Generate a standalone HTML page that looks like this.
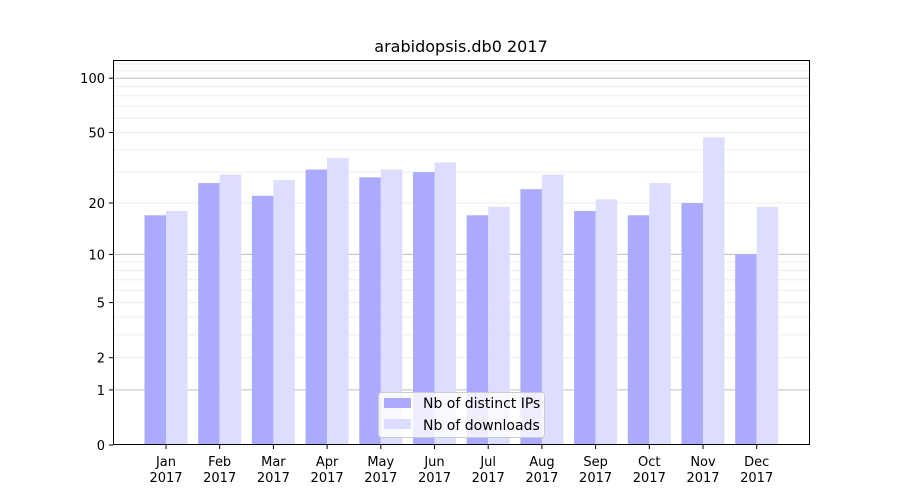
<!DOCTYPE html>
<html><head><meta charset="utf-8"><style>
body{margin:0;background:#fff;font-family:"DejaVu Sans","Liberation Sans",sans-serif;}
svg text{font-family:"DejaVu Sans","Liberation Sans",sans-serif;}
</style></head><body>
<svg id="chart" width="900" height="500">
<rect width="900" height="500" fill="#fff"/>
<text x="461" y="52" font-size="16" text-anchor="middle">arabidopsis.db0 2017</text>
<g id="grid"></g><g id="bars"></g><g id="axes"></g>
<g>
<rect x="378.5" y="392.5" width="166" height="45" rx="3" fill="#fff" fill-opacity="0.8" stroke="#ccc"/>
<rect x="384" y="398" width="27" height="10" fill="#aaaaff"/>
<text x="423" y="408" font-size="14">Nb of distinct IPs</text>
<rect x="384" y="419" width="27" height="10" fill="#ddddff"/>
<text x="423" y="430" font-size="14">Nb of downloads</text>
</g>
</svg>
<script>
const months=["Jan","Feb","Mar","Apr","May","Jun","Jul","Aug","Sep","Oct","Nov","Dec"];
const ips=[17,26,22,31,28,30,17,24,18,17,20,10];
const downloads=[18,29,27,36,31,34,19,29,21,26,47,19];
const yTicks=[0,1,2,5,10,20,50,100];
const NS="http://www.w3.org/2000/svg";
const L=113,R=810,T=60,B=445;
function y(v){return B-Math.log10(1+v)*183;}
function xc(i){return 166+i*53.7;}
function mk(tag,attrs,parent){const e=document.createElementNS(NS,tag);for(const k in attrs)e.setAttribute(k,attrs[k]);parent.appendChild(e);return e;}
const grid=document.getElementById('grid'),bars=document.getElementById('bars'),axes=document.getElementById('axes');
const minors=[2,3,4,5,6,7,8,9,20,30,40,50,60,70,80,90,110,120];
minors.forEach(v=>{const l=mk('line',{x1:L,x2:R,y1:y(v),y2:y(v),stroke:'#000','stroke-opacity':0.07},grid);

});
[1,10,100].forEach(v=>{const l=mk('line',{x1:L,x2:R,y1:y(v),y2:y(v),stroke:'#000','stroke-opacity':0.25},grid);

});
months.forEach((m,i)=>{
const w=21.5;
const b1=mk('rect',{x:xc(i)-w,y:y(ips[i]),width:w,height:B-y(ips[i]),fill:'#aaaaff'},bars);


const b2=mk('rect',{x:xc(i),y:y(downloads[i]),width:w,height:B-y(downloads[i]),fill:'#ddddff'},bars);


mk('line',{x1:xc(i),x2:xc(i),y1:B,y2:B+4,stroke:'#000'},axes);
const t=mk('text',{x:xc(i),y:B+21,'font-size':13,'text-anchor':'middle'},axes);t.textContent=m;


const t2=mk('text',{x:xc(i),y:B+37,'font-size':13,'text-anchor':'middle'},axes);t2.textContent='2017';


});
yTicks.forEach(v=>{
mk('line',{x1:L-4,x2:L,y1:y(v),y2:y(v),stroke:'#000'},axes);
const t=mk('text',{x:L-8,y:y(v)+5,'font-size':13,'text-anchor':'end'},axes);t.textContent=v;


});
const f=mk('rect',{x:L+0.5,y:T+0.5,width:R-L-1,height:B-T-1,fill:'none',stroke:'#000'},axes);


</script>
</body></html>
